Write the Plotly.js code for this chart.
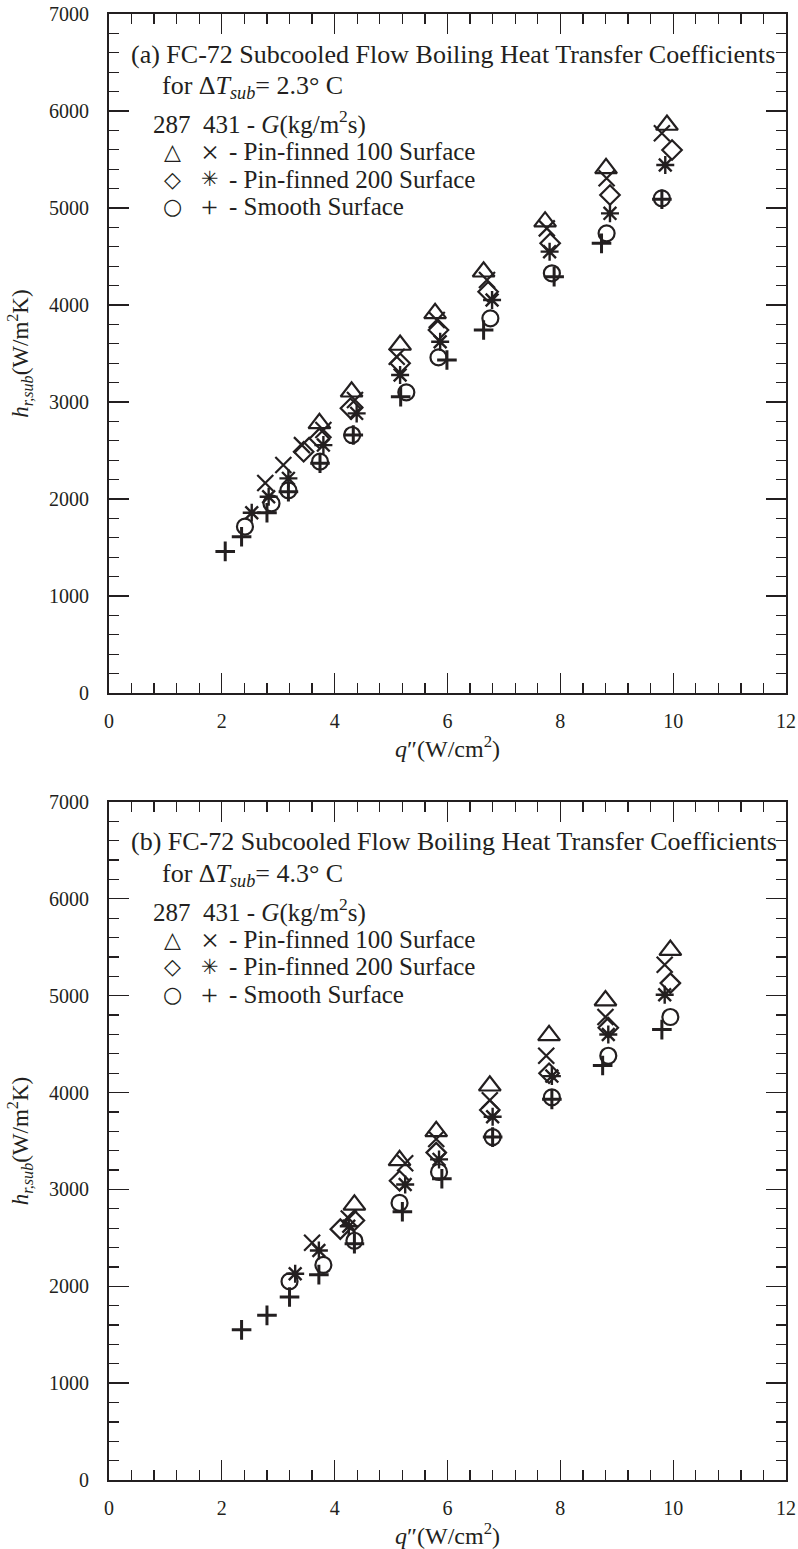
<!DOCTYPE html>
<html>
<head>
<meta charset="utf-8">
<script src="https://cdn.plot.ly/plotly-3.0.1.min.js"></script>
<style>
  html, body { margin: 0; padding: 0; background: #fff; }
  #chart { width: 798px; height: 1549px; }
</style>
</head>
<body>
<div id="chart"></div>
<script>
// ---- Panel (a): ΔT_sub = 2.3 °C ----
const a_pf100_287_q = [3.73, 4.30, 5.16, 5.78, 6.64, 7.73, 8.81, 9.89];
const a_pf100_287_h = [2780, 3106, 3588, 3914, 4343, 4859, 5409, 5856];
const a_pf100_431_q = [2.77, 3.09, 3.42, 3.80, 4.36, 5.10, 5.81, 6.70, 7.76, 8.82, 9.80];
const a_pf100_431_h = [2165, 2350, 2556, 2711, 3020, 3467, 3845, 4258, 4790, 5306, 5770];
const a_pf200_287_q = [3.45, 3.73, 4.28, 5.16, 5.84, 6.72, 7.82, 8.88, 9.98];
const a_pf200_287_h = [2488, 2625, 2935, 3399, 3742, 4137, 4636, 5134, 5598];
const a_pf200_431_q = [2.53, 2.83, 3.18, 3.80, 4.39, 5.16, 5.87, 6.79, 7.81, 8.88, 9.86];
const a_pf200_431_h = [1859, 2024, 2213, 2556, 2883, 3278, 3622, 4052, 4550, 4945, 5443];
const a_smooth_287_q = [2.41, 2.88, 3.18, 3.74, 4.31, 5.27, 5.84, 6.76, 7.85, 8.82, 9.80];
const a_smooth_287_h = [1715, 1955, 2090, 2385, 2660, 3100, 3460, 3863, 4327, 4739, 5100];
const a_smooth_431_q = [2.06, 2.35, 2.80, 3.18, 3.74, 4.33, 5.17, 5.99, 6.64, 7.89, 8.73, 9.80];
const a_smooth_431_h = [1460, 1611, 1859, 2075, 2370, 2660, 3055, 3433, 3742, 4292, 4636, 5090];

// ---- Panel (b): ΔT_sub = 4.3 °C ----
const b_pf100_287_q = [4.35, 5.15, 5.80, 6.75, 7.80, 8.80, 9.95];
const b_pf100_287_h = [2840, 3300, 3600, 4070, 4590, 4950, 5470];
const b_pf100_431_q = [3.60, 4.25, 5.25, 5.80, 6.75, 7.75, 8.80, 9.85];
const b_pf100_431_h = [2450, 2700, 3270, 3520, 3920, 4380, 4780, 5320];
const b_pf200_287_q = [4.10, 4.35, 5.15, 5.80, 6.75, 7.80, 8.85, 9.95];
const b_pf200_287_h = [2590, 2680, 3090, 3380, 3820, 4200, 4670, 5130];
const b_pf200_431_q = [3.30, 3.72, 4.25, 5.25, 5.85, 6.80, 7.85, 8.85, 9.85];
const b_pf200_431_h = [2130, 2370, 2620, 3050, 3310, 3750, 4170, 4600, 5010];
const b_smooth_287_q = [3.20, 3.80, 4.35, 5.15, 5.85, 6.80, 7.85, 8.85, 9.95];
const b_smooth_287_h = [2050, 2220, 2470, 2860, 3180, 3540, 3950, 4380, 4780];
const b_smooth_431_q = [2.35, 2.80, 3.20, 3.72, 4.35, 5.20, 5.90, 6.80, 7.85, 8.75, 9.80];
const b_smooth_431_h = [1550, 1700, 1890, 2120, 2440, 2770, 3110, 3540, 3930, 4280, 4650];

// Axis ticks and annotation text
const xTickVals = [0, 2, 4, 6, 8, 10, 12];
const yTickVals = [0, 1000, 2000, 3000, 4000, 5000, 6000, 7000];
const panelTitles = ["(a) FC-72 Subcooled Flow Boiling Heat Transfer Coefficients",
                     "(b) FC-72 Subcooled Flow Boiling Heat Transfer Coefficients"];
const panelSubtitles = ["for Δ<i>T</i><sub><i>sub</i></sub>= 2.3° C",
                        "for Δ<i>T</i><sub><i>sub</i></sub>= 4.3° C"];
const massFluxHeader = "287  431 - <i>G</i>(kg/m<sup>2</sup>s)";
const rowLabels = ["- Pin-finned 100 Surface", "- Pin-finned 200 Surface", "- Smooth Surface"];
const rowSymbols287 = ["△", "◇", "○"];
const rowSymbols431 = ["×", "✳", "+"];

const INK = "#231f20";
const SERIF = "'Liberation Serif', 'Times New Roman', serif";
const SYM = "'DejaVu Sans', sans-serif";

function series(q, h, symbol, size, lw, xa, ya) {
  return {
    x: q, y: h, xaxis: xa, yaxis: ya,
    type: "scatter", mode: "markers", showlegend: false,
    hoverinfo: "skip",
    marker: { symbol: symbol, size: size, color: INK, line: { color: INK, width: lw } }
  };
}

const traces = [];
function addPanel(d, xa, ya) {
  traces.push(series(d.s287q, d.s287h, "circle-open", 16, 2.2, xa, ya));
  traces.push(series(d.s431q, d.s431h, "cross-thin-open", 14, 3, xa, ya));
  traces.push(series(d.p2287q, d.p2287h, "diamond-open", 15, 2.2, xa, ya));
  traces.push(series(d.p2431q, d.p2431h, "asterisk-open", 15, 2.4, xa, ya));
  traces.push(series(d.p1287q, d.p1287h, "triangle-up-open", 19, 2.2, xa, ya));
  traces.push(series(d.p1431q, d.p1431h, "x-thin-open", 16, 2.2, xa, ya));
}
addPanel({
  p1287q: a_pf100_287_q, p1287h: a_pf100_287_h, p1431q: a_pf100_431_q, p1431h: a_pf100_431_h,
  p2287q: a_pf200_287_q, p2287h: a_pf200_287_h, p2431q: a_pf200_431_q, p2431h: a_pf200_431_h,
  s287q: a_smooth_287_q, s287h: a_smooth_287_h, s431q: a_smooth_431_q, s431h: a_smooth_431_h
}, "x", "y");
addPanel({
  p1287q: b_pf100_287_q, p1287h: b_pf100_287_h, p1431q: b_pf100_431_q, p1431h: b_pf100_431_h,
  p2287q: b_pf200_287_q, p2287h: b_pf200_287_h, p2431q: b_pf200_431_q, p2431h: b_pf200_431_h,
  s287q: b_smooth_287_q, s287h: b_smooth_287_h, s431q: b_smooth_431_q, s431h: b_smooth_431_h
}, "x2", "y2");

function xAxis(anchor) {
  return {
    anchor: anchor, domain: [0, 1], range: [0, 12],
    tickvals: xTickVals, ticktext: xTickVals.map(String),
    ticks: "inside", ticklen: 20, tickwidth: 1.3, tickcolor: INK,
    minor: { dtick: 0.4, ticks: "inside", ticklen: 10, tickwidth: 1.3, tickcolor: INK },
    showline: true, linecolor: INK, linewidth: 2, mirror: "allticks",
    showgrid: false, zeroline: false,
    tickfont: { family: SERIF, size: 20, color: INK },
    ticklabelstandoff: 9,
    title: { text: "<i>q</i>″(W/cm<sup>2</sup>)", font: { family: SERIF, size: 24, color: INK }, standoff: 0 }
  };
}
function yAxis(anchor, domain) {
  return {
    anchor: anchor, domain: domain, range: [0, 7000],
    tickvals: yTickVals, ticktext: yTickVals.map(String),
    ticks: "inside", ticklen: 20, tickwidth: 1.3, tickcolor: INK,
    minor: { dtick: 200, ticks: "inside", ticklen: 10, tickwidth: 1.3, tickcolor: INK },
    showline: true, linecolor: INK, linewidth: 2, mirror: "allticks",
    showgrid: false, zeroline: false,
    tickfont: { family: SERIF, size: 20, color: INK },
    ticklabelstandoff: 14,
    title: { text: "<i>h</i><sub><i>r,sub</i></sub>(W/m<sup>2</sup>K)", font: { family: SERIF, size: 23, color: INK }, standoff: 14 }
  };
}

// Text block inside each panel, positioned in axis-domain fractions
const annotations = [];
function addLegendBlock(i, xa, ya) {
  const xr = xa + " domain", yr = ya + " domain";
  const txt = (text, x, y, size, anchor, family) => annotations.push({
    xref: xr, yref: yr, x: x, y: y, text: text, showarrow: false,
    xanchor: anchor || "left", yanchor: "middle",
    font: { family: family || SERIF, size: size, color: INK }
  });
  txt(panelTitles[i], 0.030, 0.941, 26);
  txt(panelSubtitles[i], 0.076, 0.893, 26);
  txt(massFluxHeader, 0.062, 0.840, 25);
  const rowY = [0.797, 0.757, 0.716];
  const symFonts = [[32, SERIF], [21, SYM], [30, SERIF]];
  for (let r = 0; r < 3; r++) {
    txt(rowSymbols287[r], 0.094, rowY[r], 22, "center", SYM);
    txt(rowSymbols431[r], 0.149, rowY[r], symFonts[r][0], "center", symFonts[r][1]);
    txt(rowLabels[r], 0.174, rowY[r], 25);
  }
}
addLegendBlock(0, "x", "y");
addLegendBlock(1, "x2", "y2");

const layout = {
  width: 798, height: 1549,
  margin: { l: 109, r: 12, t: 14, b: 69 },
  paper_bgcolor: "#fff", plot_bgcolor: "#fff",
  showlegend: false,
  xaxis: xAxis("y"),
  yaxis: yAxis("x", [0.5368, 1]),
  xaxis2: xAxis("y2"),
  yaxis2: yAxis("x2", [0, 0.4625]),
  annotations: annotations
};

Plotly.newPlot("chart", traces, layout, { staticPlot: true, displayModeBar: false });
</script>
</body>
</html>
